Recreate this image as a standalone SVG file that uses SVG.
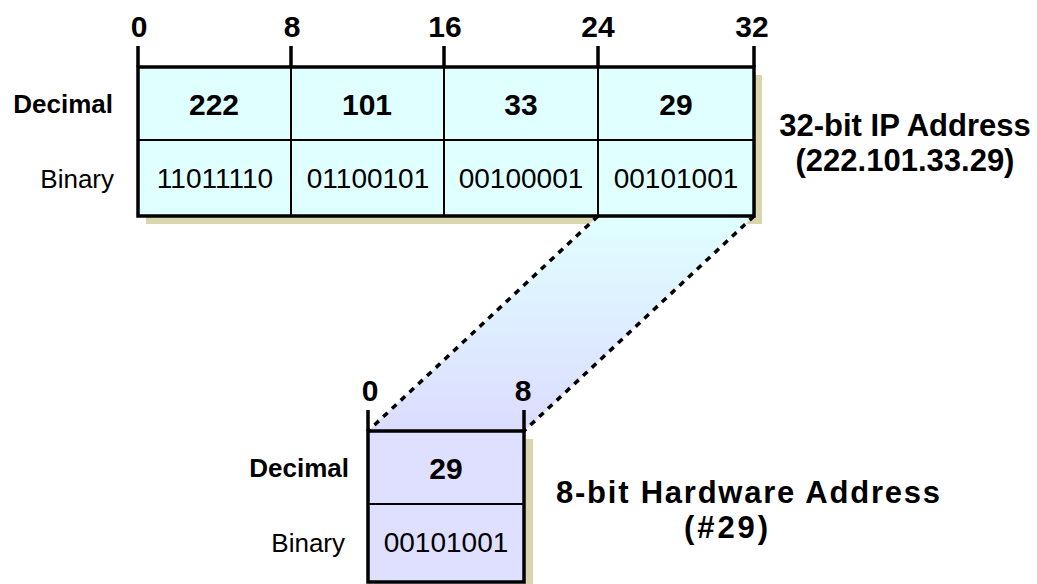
<svg xmlns="http://www.w3.org/2000/svg" width="1037" height="584" viewBox="0 0 1037 584">
<defs>
<linearGradient id="g" x1="0" y1="216" x2="0" y2="431" gradientUnits="userSpaceOnUse">
<stop offset="0" stop-color="#E0FFFF"/>
<stop offset="1" stop-color="#DCDCFF"/>
</linearGradient>
<style>
.b{font-family:"Liberation Sans",Arial,sans-serif;font-weight:bold;fill:#000}
.n{font-family:"Liberation Sans",Arial,sans-serif;font-weight:normal;fill:#000}
.shadow{fill:#D9D6AE}
.frame{stroke:#000;stroke-width:3.5;}
.div{stroke:#000;stroke-width:2;fill:none}
.tick{stroke:#000;stroke-width:3.5;fill:none}
.dash{stroke:#000;stroke-width:3.5;stroke-dasharray:6 6;fill:none}
</style>
</defs>
<rect class="shadow" x="146" y="75" width="616" height="149"/>
<rect class="shadow" x="524" y="439" width="9" height="145"/>
<g id="connectors">
<polygon points="598,216 754,216 524,431 368,431" fill="url(#g)"/>
</g>
<g id="ip-address">
<rect x="138" y="67" width="616" height="149" fill="#E0FFFF" class="frame"/>
<line class="div" x1="138" y1="140" x2="754" y2="140"/>
<line class="div" x1="291" y1="67" x2="291" y2="216"/>
<line class="div" x1="444" y1="67" x2="444" y2="216"/>
<line class="div" x1="598" y1="67" x2="598" y2="216"/>
<path class="tick" d="M138,46V67M291,46V67M444,46V67M598,46V67M754,46V67"/>
<g class="b" font-size="30" text-anchor="middle">
<text x="139" y="37">0</text>
<text x="292" y="37">8</text>
<text x="445" y="37">16</text>
<text x="598" y="37">24</text>
<text x="752" y="37">32</text>
<text x="214" y="115">222</text>
<text x="367" y="115">101</text>
<text x="521" y="115">33</text>
<text x="676" y="115">29</text>
</g>
<text class="b" font-size="26" x="113" y="113" text-anchor="end">Decimal</text>
<g class="n" font-size="28" text-anchor="middle">
<text x="215" y="188">11011110</text>
<text x="368" y="188">01100101</text>
<text x="521" y="188">00100001</text>
<text x="676" y="188">00101001</text>
</g>
<text class="n" font-size="26" x="114" y="188" text-anchor="end">Binary</text>
<g class="b" font-size="31" text-anchor="middle">
<text x="905" y="136">32-bit IP Address</text>
<text x="905" y="171">(222.101.33.29)</text>
</g>
</g>
<g id="hw-address">
<rect x="368" y="431" width="156" height="151" fill="#DFE0FF" class="frame"/>
<line class="div" x1="368" y1="504" x2="524" y2="504"/>
<path class="tick" d="M368,410V431M524,410V431"/>
<g class="b" font-size="30" text-anchor="middle">
<text x="370" y="401">0</text>
<text x="523" y="401">8</text>
<text x="446" y="479">29</text>
</g>
<text class="b" font-size="26" x="349" y="477" text-anchor="end">Decimal</text>
<text class="n" font-size="28" x="446" y="552" text-anchor="middle">00101001</text>
<text class="n" font-size="26" x="345" y="552" text-anchor="end">Binary</text>
<g class="b" font-size="31" text-anchor="middle">
<text x="748" y="503" textLength="384" lengthAdjust="spacing">8-bit Hardware Address</text>
<text x="726" y="538" textLength="84" lengthAdjust="spacing">(#29)</text>
</g>
</g>
<g id="connector-lines">
<line class="dash" x1="598" y1="216" x2="368" y2="431"/>
<line class="dash" x1="754" y1="216" x2="524" y2="431"/>
</g>
</svg>
